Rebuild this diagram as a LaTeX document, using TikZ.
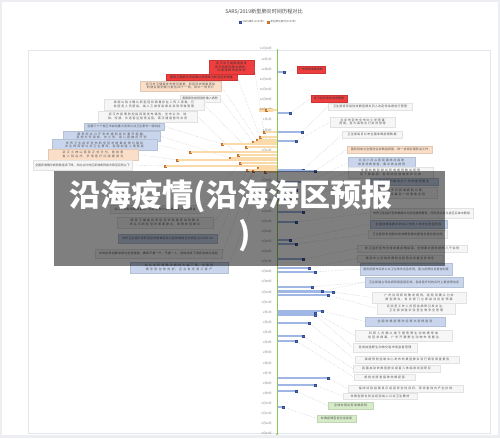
\documentclass[tikz,border=0pt]{standalone}
\usepackage{fontspec}
\setmainfont{Noto Sans CJK SC}
\usepackage{xcolor}
\usepackage{tikz}
\usetikzlibrary{positioning}
\XeTeXlinebreaklocale "zh"
\XeTeXlinebreakskip=0pt plus 0.5pt

\definecolor{pagegray}{RGB}{236,238,241}
\definecolor{panelline}{RGB}{226,231,239}
\definecolor{axisgreen}{RGB}{140,195,90}
\definecolor{redbox}{RGB}{240,62,62}
\definecolor{peachbox}{RGB}{250,222,200}
\definecolor{bluebox}{RGB}{200,213,236}
\definecolor{greybox}{RGB}{246,246,246}
\definecolor{greenbox}{RGB}{214,236,200}
\definecolor{boxline}{RGB}{226,226,226}
\definecolor{bluemk}{RGB}{70,110,200}
\definecolor{bluebar}{RGB}{160,182,228}
\definecolor{orangemk}{RGB}{240,140,60}
\definecolor{orangebar}{RGB}{251,218,170}
\definecolor{inktext}{RGB}{85,85,85}
\definecolor{linkgray}{RGB}{175,175,175}

\begin{document}
\begin{tikzpicture}[
    x=0.3mm,
    y=-0.3mm,
    evbox/.style={draw=boxline, line width=0.2pt, inner sep=0.6mm, align=center,
                  text=inktext, font=\fontsize{2.5}{3.1}\selectfont},
    redev/.style={evbox, fill=redbox, draw=redbox!85!black, text=black!80},
    peachev/.style={evbox, fill=peachbox, draw=peachbox!90!black},
    blueev/.style={evbox, fill=bluebox, draw=bluebox!90!black},
    greyev/.style={evbox, fill=greybox},
    greenev/.style={evbox, fill=greenbox, draw=greenbox!90!black},
    link/.style={densely dotted, linkgray, line width=0.3pt},
    bbar/.style={bluebar, line width=0.9pt},
    obar/.style={orangebar, line width=1.1pt},
    bmark/.style={rectangle, fill=bluemk, draw=bluemk!70!black, line width=0.1pt,
                  minimum width=0.5mm, minimum height=0.7mm, inner sep=0pt},
    omark/.style={bmark, fill=orangemk, draw=orangemk!80!black},
    ticklab/.style={font=\fontsize{2.4}{3}\selectfont, text=black!50, inner sep=0.3mm},
    legend/.style={font=\fontsize{2.2}{3}\selectfont, text=black!60, inner sep=0.2mm},
    title/.style={font=\fontsize{4.4}{5}\selectfont, text=black!70},
    bigtext/.style={font=\fontsize{26.5}{30}\selectfont\bfseries, text=white, inner sep=0pt},
]
\newcommand{\sarsev}[9]{%
  \pgfmathsetmacro\bw{(#7-#5)*0.3}%
  \pgfmathsetmacro\bh{(#8-#6)*0.3}%
  \pgfmathsetmacro\tw{(#7-#5-4)*0.3}%
  \coordinate (ax-#1) at (277,#3);
  \node[bmark] (mk-#1) at (#2,#3) {};
  \draw[bbar] (ax-#1) -- (mk-#1);
  \node[#4, minimum width=\bw mm, minimum height=\bh mm, text width=\tw mm]
    (ev-#1) at ({(#5+#7)/2},{(#6+#8)/2}) {#9};
  \draw[link] (mk-#1) -- (ev-#1.west);
}
\newcommand{\covev}[9]{%
  \pgfmathsetmacro\bw{(#7-#5)*0.3}%
  \pgfmathsetmacro\bh{(#8-#6)*0.3}%
  \pgfmathsetmacro\tw{(#7-#5-4)*0.3}%
  \coordinate (ax-#1) at (277,#3);
  \node[omark] (mk-#1) at (#2,#3) {};
  \draw[obar] (ax-#1) -- (mk-#1);
  \node[#4, minimum width=\bw mm, minimum height=\bh mm, text width=\tw mm]
    (ev-#1) at ({(#5+#7)/2},{(#6+#8)/2}) {#9};
  \draw[link] (mk-#1) -- (ev-#1.east);
}
\useasboundingbox (0,0) rectangle (500,438);
\fill[pagegray] (0,0) rectangle (500,438);
\fill[white] (2,2) rectangle (498,435);
\draw[panelline, fill=white, line width=0.4pt] (28,50) rectangle (490,433);

% title and legend
\node[title] (title) at (264,12) {SARS/2019新型肺炎时间历程对比};
\node[bmark, minimum width=0.4mm, minimum height=0.4mm] (lg-sars) at (240,22) {};
\node[legend, right=0.3mm of lg-sars] (lgt-sars) {SARS事件(2003年)};
\node[omark, minimum width=0.4mm, minimum height=0.4mm] (lg-cov) at (268,22) {};
\node[legend, right=0.3mm of lg-cov] (lgt-cov) {新冠肺炎事件(2020年)};

% date ticks
\foreach \d [count=\i from 0] in {11月16日,12月1日,12月8日,12月15日,12月22日,12月29日,12月31日,
    1月1日,1月5日,1月9日,1月11日,1月14日,1月16日,1月19日,1月20日,1月21日,1月22日,1月23日,
    1月24日,1月25日,1月26日,1月27日,1月28日,1月29日,1月30日,1月31日,2月1日,2月2日,2月3日,
    2月4日,2月5日,2月6日,2月7日,2月8日,2月9日,2月10日,2月11日,2月12日,2月13日}{
  \ifnum\i=6 \def\tkfill{orangebar}\else\def\tkfill{none}\fi
  \node[ticklab, fill=\tkfill, anchor=east] (tk\i) at (273,{49+10.13*\i}) {\d};
}

% 2019 events (left)
\coordinate (ax-start) at (277,110);
\node[omark] (mk-start) at (266,110) {};
\draw[obar] (ax-start) -- (mk-start);
\covev{c1}{264}{132}{redev}{209}{62}{254}{72}{武汉市卫健委通报发现不明原因肺炎病例，华南海鲜市场休市}
\covev{c2}{260}{137}{redev}{166}{75}{237}{79.5}{国家卫健委专家组确认病原体为新型冠状病毒}
\covev{c3}{257}{140}{peachev}{140}{82}{221}{90}{武汉市卫健委发布情况通报，新型冠状病毒感染的肺炎病例累计报告四十一例，其中一例死亡}
\covev{c4}{253}{142}{greyev}{180}{96}{220}{100.5}{泰国报告首例境外输入病例}
\covev{c5}{246}{147}{greyev}{104}{100.7}{204}{108.7}{钟南山院士确认新型冠状病毒存在人传人现象，已有医务人员感染，纳入乙类传染病并采取甲类管理}
\covev{c6}{238}{155}{greyev}{98}{112}{197}{121}{武汉市疫情防控指挥部发布通告，全市公交、地铁、轮渡、长途客运暂停运营，离汉通道暂时关闭}
\covev{c7}{222}{144}{blueev}{84}{124}{164}{129}{全国三十个省区市启动重大突发公共卫生事件一级响应}
\covev{c8}{230}{158}{blueev}{63}{132}{160}{140}{国务院办公厅发布通知延长春节假期，各地大专院校、中小学、幼儿园推迟开学}
\covev{c9}{190}{152}{blueev}{52}{140.5}{157}{149}{世界卫生组织宣布新型冠状病毒疫情为国际关注的突发公共卫生事件，各国加强入境检疫}
\covev{c10}{177}{160}{peachev}{48}{150}{138}{159}{武汉火神山医院正式交付，首批患者入院治疗，多地医疗队驰援湖北}
\covev{c11}{165}{166}{greyev}{33}{160}{132}{170}{全国新增确诊病例数连续下降，湖北以外地区新增病例首次降至百例以下}
\covev{c12}{240}{163}{greyev}{110}{205}{200}{213}{武汉方舱医院陆续启用，实现应收尽收，集中收治轻症患者}
\covev{c13}{258}{168}{greyev}{117}{217}{213}{228}{国家卫健委将新型冠状病毒感染的肺炎命名为新型冠状病毒肺炎，简称新冠肺炎}
\covev{c14}{247}{170}{blueev}{118}{234}{217}{243}{世界卫生组织将新型冠状病毒感染引起的疾病正式命名为COVID-19}
\covev{c15}{253}{171}{greyev}{95}{249}{222}{258}{中央指导组要求湖北全面排查，确保不漏一户、不漏一人，各地陆续下调应急响应级别}
\covev{c16}{265}{172}{blueev}{130}{262}{228}{273}{湖北省新增确诊病例大幅下降，全国疫情形势总体向好，企业有序复工复产}

% SARS events (right)
\sarsev{s1}{284}{72}{redev}{297}{67}{325}{72}{广东首例非典病例}
\sarsev{s2}{290}{113}{redev}{311}{96}{347}{101}{世卫组织发布全球警报}
\sarsev{s3}{302}{132}{greyev}{328}{103}{412}{110}{卫生部将传染性非典型肺炎列入法定传染病进行管理}
\sarsev{s4}{296}{141}{greyev}{330}{117}{395}{127}{北京市宣布全市中小学停课两周，各大高校实行封闭管理}
\sarsev{s5}{303}{170}{greyev}{342}{132}{402}{137}{卫生部每日公布全国非典疫情数据}
\sarsev{s6}{315}{171}{peachev}{347}{147}{432}{152}{国务院成立全国防治非典指挥部，统一协调全国防治工作}
\sarsev{s7}{309}{182}{blueev}{348}{157}{415}{168}{北京小汤山医院建成并接收首批非典患者，集中收治病例}
\sarsev{s8}{296}{190}{greyev}{348}{168}{433}{177}{全国非典型肺炎新增病例数出现明显下降趋势，各地防控措施逐步见效}
\sarsev{s9}{290}{200}{blueev}{370}{178}{438}{185}{世卫组织解除对广州的旅游警告}
\sarsev{s10}{303}{212}{greyev}{363}{188}{437}{197}{北京连续多日新增病例为零，小汤山医院最后一批患者出院}
\sarsev{s11}{296}{222}{greyev}{370}{208}{473}{218}{世界卫生组织宣布撤销对北京的旅游警告，同时将北京从疫区名单中删除}
\sarsev{s12}{290}{240}{blueev}{370}{220}{447}{228}{全国非典型肺炎防治工作转入常态化防控阶段}
\sarsev{s13}{296}{244}{greyev}{368}{230}{447}{238}{卫生部宣布全国内地非典型肺炎患者全部治愈出院}
\sarsev{s14}{303}{259}{greyev}{357}{245}{467}{252}{世卫组织宣布全球非典疫情结束，全球累计报告病例八千余例}
\sarsev{s15}{309}{268}{greyev}{357}{256}{443}{261}{疾控中心总结非典防治经验并完善应急体系}
\sarsev{s16}{315}{272}{blueev}{360}{263}{452}{275}{国务院颁布突发公共卫生事件应急条例，建立疫情信息报告制度}
\sarsev{s17}{312}{287}{blueev}{365}{277}{463}{287}{卫生部建立传染病网络直报系统，各级医疗机构实时上报疫情信息}
\sarsev{s18}{333}{292}{greyev}{372}{292}{466}{303}{广州出现新的散发病例，经检测确认为非典型肺炎，有关部门立即启动应急预案}
\sarsev{s19}{328}{295}{greyev}{377}{304}{455}{313}{实验室工作人员感染病例引发关注，卫生部加强实验室生物安全管理}
\sarsev{s20}{322}{311}{blueev}{365}{317}{445}{326}{全国非典疫情防控再次取得胜利}
\sarsev{s21}{315}{313}{greyev}{355}{330}{452}{341}{科研人员确认果子狸等野生动物携带类似冠状病毒，广东开展野生动物市场整治}
\sarsev{s22}{315}{315}{greyev}{353}{343}{417}{352}{各地加强野生动物交易市场监督管理}
\sarsev{s23}{309}{323}{greyev}{355}{356}{459}{363}{疾病预防控制中心发布非典型肺炎流行病学调查报告}
\sarsev{s24}{303}{336}{greyev}{353}{366}{440}{371}{我国启动非典型肺炎疫苗人体临床试验研究}
\sarsev{s25}{296}{341}{greyev}{354}{374}{415}{380}{首批志愿者接种非典疫苗}
\sarsev{s26}{328}{378}{greyev}{348}{386}{463}{391}{临床试验结果显示疫苗安全性良好，受试者体内产生抗体}
\sarsev{s27}{315}{385}{greyev}{343}{393}{417}{399}{非典型肺炎防治经验纳入公共卫生教材}
\sarsev{s28}{296}{391}{greenev}{328}{403}{373}{408}{全球未再出现非典病例}
\sarsev{s29}{283}{407}{greenev}{317}{416}{356}{421}{非典疫情宣告完全结束}
\coordinate (ax-x1) at (277,291);
\node[bmark] (mk-x1) at (322,291) {};
\draw[bbar] (ax-x1) -- (mk-x1);
\draw[link] (mk-x1) -- (ev-s17.west);

% time axis
\coordinate (axtop) at (277,49);
\coordinate (axbot) at (277,434);
\draw[axisgreen, line width=0.8pt] (axtop) -- (axbot);
\node[circle, fill=axisgreen, inner sep=0pt, minimum size=0.6mm] (axend) at (axbot) {};

% banner over the chart
\fill[black, opacity=0.5] (54,171) rectangle (445,266);
\node[bigtext] (head1) at (231,196) {沿海疫情(沿海海区预报};
\node[bigtext] (head2) at (245,236) {)};
\end{tikzpicture}
\end{document}
